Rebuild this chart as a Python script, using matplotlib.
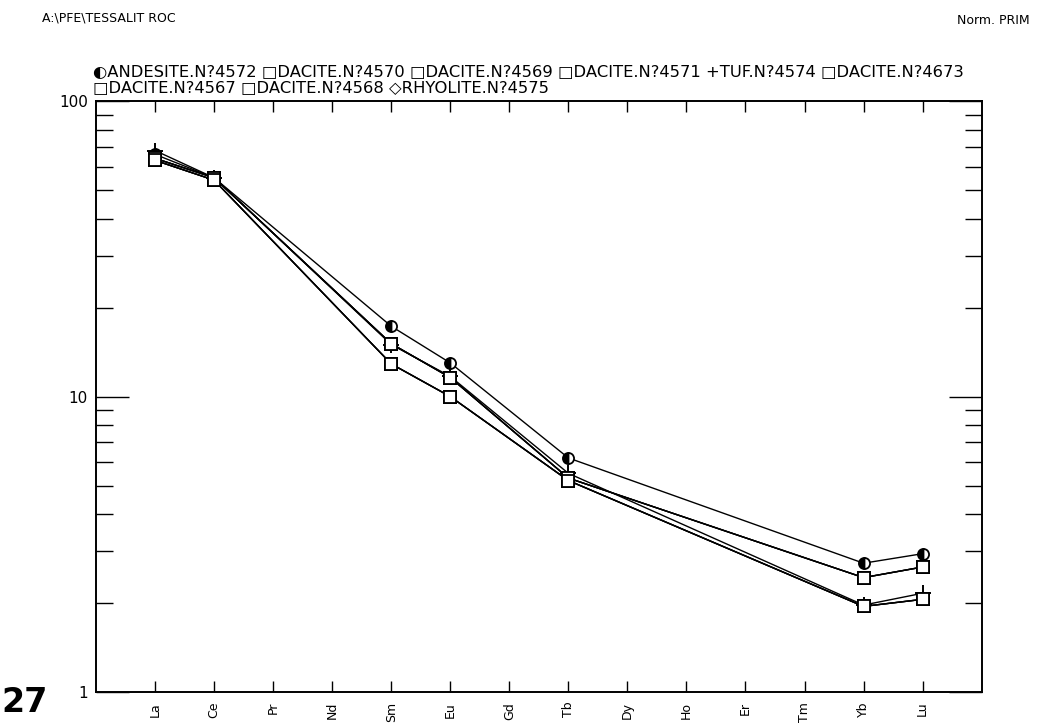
import matplotlib
matplotlib.use("Agg")
import matplotlib.pyplot as plt
import numpy as np
from matplotlib.ticker import LogLocator, NullFormatter, FixedLocator

elements = ["La", "Ce", "Pr", "Nd", "Sm", "Eu", "Gd", "Tb", "Dy", "Ho", "Er", "Tm", "Yb", "Lu"]

# values per element (None = not analysed)
andesite_4572 = [66, 55, None, None, 17.3, 13.0, None, 6.2, None, None, None, None, 2.73, 2.94]
dacite_4570 = [64, 55, None, None, 15.1, 11.6, None, 5.3, None, None, None, None, 2.44, 2.65]
dacite_4569 = [63, 54, None, None, 12.9, 10.0, None, 5.2, None, None, None, None, 1.95, 2.06]
dacite_4571 = [64, 55, None, None, 15.1, 11.6, None, 5.3, None, None, None, None, 2.44, 2.65]
tuf_4574 = [68, 55, None, None, 15.0, 11.7, None, 5.5, None, None, None, None, 1.97, 2.16]
dacite_4673 = [63, 54, None, None, 12.9, 10.0, None, 5.2, None, None, None, None, 1.95, 2.06]
dacite_4567 = [64, 55, None, None, 15.1, 11.6, None, 5.3, None, None, None, None, 2.44, 2.65]
dacite_4568 = [63, 54, None, None, 12.9, 10.0, None, 5.2, None, None, None, None, 1.95, 2.06]
rhyolite_4575 = [None] * 14

series = [
    ("ANDESITE.N?4572", andesite_4572, "o"),
    ("DACITE.N?4570", dacite_4570, "s"),
    ("DACITE.N?4569", dacite_4569, "s"),
    ("DACITE.N?4571", dacite_4571, "s"),
    ("TUF.N?4574", tuf_4574, "+"),
    ("DACITE.N?4673", dacite_4673, "s"),
    ("DACITE.N?4567", dacite_4567, "s"),
    ("DACITE.N?4568", dacite_4568, "s"),
    ("RHYOLITE.N?4575", rhyolite_4575, "D"),
]

legend_line1 = "\u25d0ANDESITE.N?4572 \u25a1DACITE.N?4570 \u25a1DACITE.N?4569 \u25a1DACITE.N?4571 +TUF.N?4574 \u25a1DACITE.N?4673"
legend_line2 = "\u25a1DACITE.N?4567 \u25a1DACITE.N?4568 \u25c7RHYOLITE.N?4575"

plt.rcParams['font.family'] = ['DejaVu Sans']
fig = plt.figure(figsize=(10.37, 7.27), dpi=100)
ax = fig.add_axes([0.0926, 0.048, 0.854, 0.813])

xpos = np.arange(1, len(elements) + 1)
for name, vals, mk in series:
    xs = [x for x, v in zip(xpos, vals) if v is not None]
    ys = [v for v in vals if v is not None]
    if not xs:
        continue
    if mk == "+":
        ax.plot(xs, ys, color="black", lw=1.0, marker="+", ms=11, mew=1.4)
    elif mk == "o":
        ax.plot(xs, ys, color="black", lw=1.0, marker="o", ms=8, fillstyle="left",
                mfc="black", mfcalt="white", mec="black", mew=1.3)
    else:
        ax.plot(xs, ys, color="black", lw=1.0, marker=mk, ms=8,
                mfc="white", mec="black", mew=1.3)

ax.set_yscale("log")
ax.set_ylim(1, 100)
ax.set_xlim(0, 15)

ax.set_xticks(xpos)
ax.set_xticklabels(elements, rotation=90, fontsize=9)
ax.tick_params(axis="x", which="major", direction="in", length=8, width=1.0,
               top=True, bottom=True, pad=7)
ax.yaxis.set_major_locator(FixedLocator([1, 10, 100]))
ax.set_yticklabels(["1", "10", "100"], fontsize=11)
ax.yaxis.set_minor_locator(LogLocator(base=10, subs=np.arange(2, 10)))
ax.yaxis.set_minor_formatter(NullFormatter())
ax.tick_params(axis="y", which="major", direction="in", length=24, width=1.0,
               left=True, right=True, pad=6)
ax.tick_params(axis="y", which="minor", direction="in", length=12, width=1.0,
               left=True, right=True)
for sp in ax.spines.values():
    sp.set_linewidth(1.4)

fig.text(42 / 1037, 1 - 18 / 727, "A:\\PFE\\TESSALIT ROC", fontsize=9, va="center", ha="left")
fig.text(1030 / 1037, 1 - 20 / 727, "Norm. PRIM", fontsize=9, va="center", ha="right")
fig.text(93 / 1037, 1 - 72 / 727, legend_line1, fontsize=11.8, va="center", ha="left")
fig.text(93 / 1037, 1 - 88 / 727, legend_line2, fontsize=11.8, va="center", ha="left")
fig.text(1 / 1037, 1 - 703 / 727, "27", fontsize=24, va="center", ha="left", fontweight="bold")

fig.savefig("out.png", dpi=100)
